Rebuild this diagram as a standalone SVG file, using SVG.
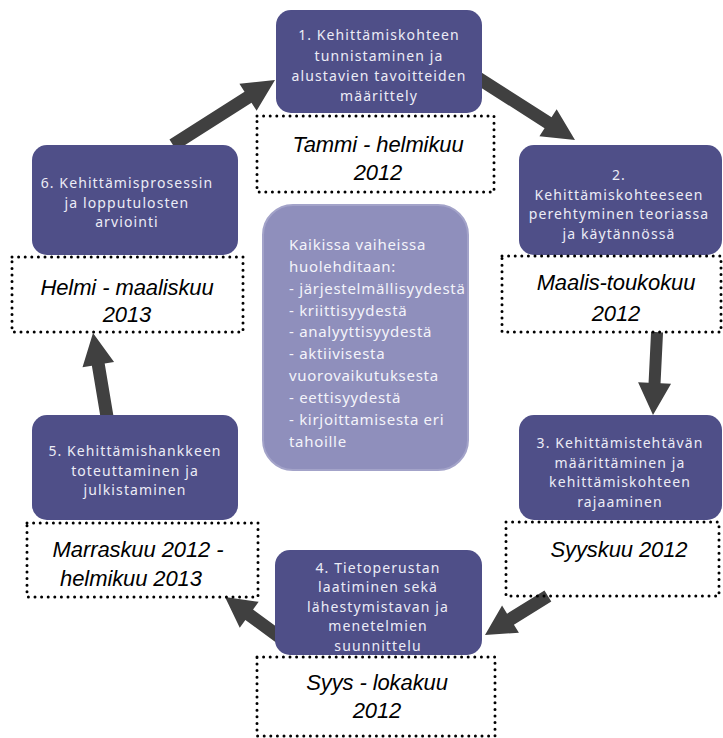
<svg xmlns="http://www.w3.org/2000/svg" width="723" height="738" viewBox="0 0 723 738">
  <style>
    .step { fill: #4f4f88; }
    .step-text { font-family: "Noto Sans", "Open Sans", sans-serif; font-size: 14px; letter-spacing: 1.1px; fill: #ececf6; text-anchor: middle; }
    .date { fill: none; stroke: #000; stroke-width: 3; stroke-dasharray: 0 6.6; stroke-linecap: round; }
    .date-text { font-family: "Liberation Sans", Arial, sans-serif; font-style: italic; font-size: 22px; letter-spacing: -0.1px; fill: #000; text-anchor: middle; }
    .arrow { fill: #404040; }
    .note { fill: #8f8fbc; stroke: #a3a3c9; stroke-width: 2; }
    .note-text { font-family: "Noto Sans", "Open Sans", sans-serif; font-size: 15px; letter-spacing: 0.7px; fill: #f4f4fa; }
  </style>
  <rect width="723" height="738" fill="#ffffff"/>

  <!-- connectors between phases: block arrows, tip at the translate origin -->
  <g id="connectors">
    <polygon class="arrow" transform="translate(275,80) rotate(-32.5)" points="0,0 -32,-16 -32,-6.5 -121,-6.5 -121,6.5 -32,6.5 -32,16"/>
    <polygon class="arrow" transform="translate(575,140) rotate(32.6)" points="0,0 -32,-16 -32,-6.5 -118,-6.5 -118,6.5 -32,6.5 -32,16"/>
    <polygon class="arrow" transform="translate(653,415) rotate(92.8)" points="0,0 -32,-16.5 -32,-6 -83,-6 -83,6 -32,6 -32,16.5"/>
    <polygon class="arrow" transform="translate(485,635) rotate(148.2)" points="0,0 -30,-16 -30,-6.5 -74,-6.5 -74,6.5 -30,6.5 -30,16"/>
    <polygon class="arrow" transform="translate(225,597) rotate(216.2)" points="0,0 -30,-16 -30,-6.5 -68,-6.5 -68,6.5 -30,6.5 -30,16"/>
    <polygon class="arrow" transform="translate(93,333) rotate(260.5)" points="0,0 -32,-16 -32,-6.5 -85,-6.5 -85,6.5 -32,6.5 -32,16"/>
  </g>

  <!-- phase 1 -->
  <g id="phase1">
    <rect class="step" x="276" y="10" width="206" height="103" rx="15"/>
    <text class="step-text" x="379" y="40">1. Kehittämiskohteen</text>
    <text class="step-text" x="379" y="61">tunnistaminen ja</text>
    <text class="step-text" x="379" y="81">alustavien tavoitteiden</text>
    <text class="step-text" x="379" y="101">määrittely</text>
    <rect class="date" x="257" y="116" width="237" height="76"/>
    <text class="date-text" x="378" y="152">Tammi - helmikuu</text>
    <text class="date-text" x="378" y="180">2012</text>
  </g>

  <!-- phase 2 -->
  <g id="phase2">
    <rect class="step" x="519" y="145" width="203" height="110" rx="15"/>
    <text class="step-text" x="619" y="180">2.</text>
    <text class="step-text" x="619" y="199.5">Kehittämiskohteeseen</text>
    <text class="step-text" x="619" y="219">perehtyminen teoriassa</text>
    <text class="step-text" x="619" y="238.5">ja käytännössä</text>
    <rect class="date" x="502" y="256" width="219" height="76"/>
    <text class="date-text" x="616" y="290">Maalis-toukokuu</text>
    <text class="date-text" x="616" y="321">2012</text>
  </g>

  <!-- phase 3 -->
  <g id="phase3">
    <rect class="step" x="519" y="415" width="203" height="105" rx="15"/>
    <text class="step-text" x="620" y="448">3. Kehittämistehtävän</text>
    <text class="step-text" x="620" y="467.5">määrittäminen ja</text>
    <text class="step-text" x="620" y="487">kehittämiskohteen</text>
    <text class="step-text" x="620" y="506.5">rajaaminen</text>
    <rect class="date" x="506" y="522" width="213" height="74"/>
    <text class="date-text" x="619" y="557">Syyskuu 2012</text>
  </g>

  <!-- phase 4 -->
  <g id="phase4">
    <rect class="step" x="275" y="550" width="207" height="105" rx="15"/>
    <text class="step-text" x="378" y="572.5">4. Tietoperustan</text>
    <text class="step-text" x="378" y="592">laatiminen sekä</text>
    <text class="step-text" x="378" y="611.5">lähestymistavan ja</text>
    <text class="step-text" x="378" y="631">menetelmien</text>
    <text class="step-text" x="378" y="650.5">suunnittelu</text>
    <rect class="date" x="257" y="657" width="238" height="79"/>
    <text class="date-text" x="377" y="690">Syys - lokakuu</text>
    <text class="date-text" x="377" y="718">2012</text>
  </g>

  <!-- phase 5 -->
  <g id="phase5">
    <rect class="step" x="32" y="415" width="206" height="105" rx="15"/>
    <text class="step-text" x="135" y="456">5. Kehittämishankkeen</text>
    <text class="step-text" x="135" y="475.5">toteuttaminen ja</text>
    <text class="step-text" x="135" y="495">julkistaminen</text>
    <rect class="date" x="27" y="523" width="231" height="74"/>
    <text class="date-text" x="138" y="557">Marraskuu 2012 -</text>
    <text class="date-text" x="131" y="586">helmikuu 2013</text>
  </g>

  <!-- phase 6 -->
  <g id="phase6">
    <rect class="step" x="32" y="145" width="206" height="110" rx="15"/>
    <text class="step-text" x="127" y="188">6. Kehittämisprosessin</text>
    <text class="step-text" x="127" y="207.5">ja lopputulosten</text>
    <text class="step-text" x="127" y="227">arviointi</text>
    <rect class="date" x="12" y="257" width="231" height="75"/>
    <text class="date-text" x="127" y="295">Helmi - maaliskuu</text>
    <text class="date-text" x="127" y="322">2013</text>
  </g>

  <!-- central note -->
  <g id="note">
    <rect class="note" x="263" y="205" width="205" height="265" rx="30"/>
    <text class="note-text">
      <tspan x="289" y="250">Kaikissa vaiheissa</tspan>
      <tspan x="289" y="272">huolehditaan:</tspan>
      <tspan x="289" y="294">- järjestelmällisyydestä</tspan>
      <tspan x="289" y="316">- kriittisyydestä</tspan>
      <tspan x="289" y="337">- analyyttisyydestä</tspan>
      <tspan x="289" y="359">- aktiivisesta</tspan>
      <tspan x="289" y="381">vuorovaikutuksesta</tspan>
      <tspan x="289" y="403">- eettisyydestä</tspan>
      <tspan x="289" y="425">- kirjoittamisesta eri</tspan>
      <tspan x="289" y="447">tahoille</tspan>
    </text>
  </g>
</svg>
